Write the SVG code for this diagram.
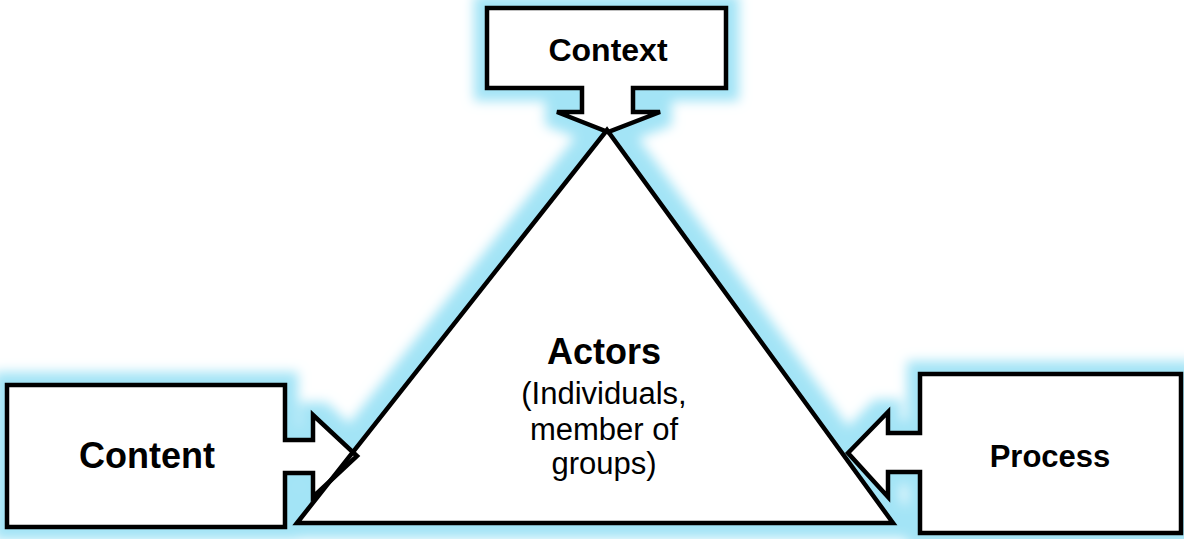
<svg xmlns="http://www.w3.org/2000/svg" width="1184" height="539" viewBox="0 0 1184 539">
<style>
.shape{fill:#fff;stroke:#000;stroke-width:4.5;stroke-linejoin:miter}
.fillonly{fill:#fff;stroke:none}
.outline{fill:none;stroke:#000;stroke-width:4.5;stroke-linejoin:miter}
.t{font-family:"Liberation Sans",Arial,sans-serif;fill:#000;text-anchor:middle}
.b{font-weight:bold}
</style>
<defs>
<filter id="glow" x="-20%" y="-20%" width="140%" height="140%">
<feMorphology in="SourceAlpha" operator="dilate" radius="13" result="d"/>
<feGaussianBlur in="d" stdDeviation="6" result="bl"/>
<feFlood flood-color="#a3e4f6"/>
<feComposite in2="bl" operator="in"/>
</filter>
<path id="p-context" d="M487,8 H726 V88 H633 V112 H660 L608,132 L557,112 H582 V88 H487 Z"/>
<path id="p-content" d="M7,385 H285 V440 H313 V415 L357,456 L313,497 V473 H285 V527 H7 Z"/>
<path id="p-process" d="M1181,374 H920 V433 H888 V412 L848,453 L888,497 V472 H920 V533 H1181 Z"/>
<path id="p-tri" d="M297,523 L607,130 L893,523 Z"/>
</defs>
<rect width="1184" height="539" fill="#fff"/>
<g id="glow-layer" filter="url(#glow)">
<use href="#p-context"/>
<use href="#p-content"/>
<use href="#p-process"/>
<use href="#p-tri" stroke="#000" stroke-width="4.5"/>
</g>
<g id="node-actors">
<use href="#p-tri" class="fillonly"/>
</g>
<g id="node-context">
<use href="#p-context" class="shape"/>
<text class="t b" x="608" y="61" font-size="32">Context</text>
</g>
<g id="node-content">
<use href="#p-content" class="shape"/>
<text class="t b" x="147" y="468" font-size="36">Content</text>
</g>
<g id="node-process">
<use href="#p-process" class="shape"/>
<text class="t b" x="1050" y="467" font-size="31">Process</text>
</g>
<g id="actors-outline">
<use href="#p-tri" class="outline"/>
<text class="t b" x="604" y="364" font-size="36">Actors</text>
<text class="t" x="604" y="404" font-size="31">(Individuals,</text>
<text class="t" x="604" y="440" font-size="31">member of</text>
<text class="t" x="604" y="474" font-size="31">groups)</text>
</g>
</svg>
